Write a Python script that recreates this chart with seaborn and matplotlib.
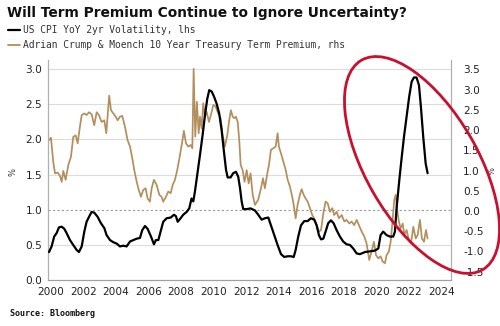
import matplotlib
matplotlib.use("Agg")
import matplotlib.pyplot as plt
import matplotlib.transforms as mtransforms
from matplotlib.patches import Ellipse
from matplotlib.lines import Line2D
import seaborn as sns
import pandas as pd

# ---------------- data ----------------
cpi_year = [1999.88, 2000.04, 2000.20, 2000.35, 2000.49, 2000.66, 2000.82, 2000.96, 2001.17, 2001.37,
            2001.58, 2001.72, 2001.89, 2002.05, 2002.19, 2002.34, 2002.50, 2002.66, 2002.87, 2003.07,
            2003.28, 2003.42, 2003.63, 2003.83, 2004.04, 2004.24, 2004.45, 2004.65, 2004.86, 2005.06,
            2005.27, 2005.47, 2005.61, 2005.78, 2005.94, 2006.15, 2006.33, 2006.45, 2006.60, 2006.74,
            2006.90, 2007.11, 2007.36, 2007.56, 2007.68, 2007.79, 2007.97, 2008.13, 2008.34, 2008.50,
            2008.64, 2008.75, 2008.85, 2008.99, 2009.16, 2009.32, 2009.47, 2009.61, 2009.73, 2009.88,
            2010.02, 2010.18, 2010.34, 2010.49, 2010.63, 2010.76, 2010.86, 2011.04, 2011.20, 2011.37,
            2011.51, 2011.62, 2011.72, 2011.82, 2012.03, 2012.27, 2012.54, 2012.74, 2012.95, 2013.15,
            2013.36, 2013.52, 2013.73, 2013.93, 2014.14, 2014.34, 2014.55, 2014.75, 2014.92, 2015.04,
            2015.20, 2015.37, 2015.57, 2015.78, 2015.98, 2016.18, 2016.33, 2016.47, 2016.60, 2016.74,
            2016.88, 2017.04, 2017.21, 2017.37, 2017.56, 2017.76, 2017.96, 2018.17, 2018.38, 2018.58,
            2018.79, 2018.99, 2019.30, 2019.60, 2019.91, 2020.12, 2020.26, 2020.42, 2020.63, 2020.84,
            2021.04, 2021.14, 2021.25, 2021.41, 2021.56, 2021.70, 2021.86, 2022.02, 2022.17, 2022.31,
            2022.47, 2022.62, 2022.74, 2022.88, 2023.03, 2023.15]
cpi_vol = [0.40, 0.48, 0.62, 0.67, 0.75, 0.76, 0.73, 0.67, 0.57, 0.50,
           0.43, 0.40, 0.48, 0.69, 0.83, 0.90, 0.97, 0.96, 0.90, 0.81,
           0.74, 0.64, 0.57, 0.54, 0.52, 0.48, 0.49, 0.48, 0.55, 0.57,
           0.59, 0.60, 0.71, 0.77, 0.73, 0.62, 0.51, 0.57, 0.57, 0.69,
           0.83, 0.88, 0.89, 0.93, 0.91, 0.83, 0.88, 0.93, 0.97, 1.02,
           1.16, 1.12, 1.26, 1.49, 1.78, 2.06, 2.35, 2.58, 2.70, 2.68,
           2.61, 2.51, 2.37, 2.13, 1.83, 1.57, 1.46, 1.46, 1.52, 1.54,
           1.47, 1.31, 1.12, 1.01, 1.01, 1.02, 0.99, 0.93, 0.86, 0.88,
           0.89, 0.78, 0.64, 0.50, 0.37, 0.33, 0.34, 0.34, 0.33, 0.43,
           0.62, 0.78, 0.84, 0.84, 0.88, 0.86, 0.78, 0.64, 0.58, 0.59,
           0.69, 0.81, 0.85, 0.81, 0.71, 0.62, 0.55, 0.51, 0.50, 0.45,
           0.38, 0.37, 0.40, 0.41, 0.42, 0.45, 0.64, 0.69, 0.64, 0.62,
           0.62, 0.69, 1.04, 1.42, 1.75, 2.04, 2.32, 2.61, 2.82, 2.88,
           2.88, 2.77, 2.46, 2.04, 1.66, 1.52]

tp_year = [1999.88, 2000.00, 2000.14, 2000.25, 2000.41, 2000.55, 2000.66, 2000.76, 2000.90, 2001.07,
           2001.23, 2001.37, 2001.52, 2001.64, 2001.78, 2001.89, 2002.05, 2002.19, 2002.34, 2002.50,
           2002.66, 2002.81, 2002.95, 2003.11, 2003.28, 2003.40, 2003.58, 2003.69, 2003.83, 2003.98,
           2004.10, 2004.24, 2004.38, 2004.55, 2004.71, 2004.86, 2005.00, 2005.12, 2005.27, 2005.37,
           2005.53, 2005.67, 2005.82, 2005.94, 2006.08, 2006.19, 2006.33, 2006.50, 2006.66, 2006.80,
           2006.90, 2007.07, 2007.21, 2007.36, 2007.48, 2007.62, 2007.76, 2007.93, 2008.07, 2008.17,
           2008.30, 2008.44, 2008.59, 2008.69, 2008.77, 2008.87, 2008.97, 2009.08, 2009.16, 2009.26,
           2009.36, 2009.47, 2009.57, 2009.71, 2009.83, 2009.98, 2010.12, 2010.28, 2010.43, 2010.55,
           2010.69, 2010.84, 2010.96, 2011.06, 2011.17, 2011.27, 2011.37, 2011.48, 2011.58, 2011.66,
           2011.78, 2011.90, 2012.03, 2012.15, 2012.27, 2012.40, 2012.54, 2012.74, 2012.91, 2013.03,
           2013.15, 2013.28, 2013.40, 2013.52, 2013.66, 2013.81, 2013.93, 2014.01, 2014.14, 2014.28,
           2014.43, 2014.55, 2014.69, 2014.83, 2014.95, 2015.04, 2015.16, 2015.30, 2015.41, 2015.53,
           2015.65, 2015.78, 2015.92, 2016.06, 2016.18, 2016.33, 2016.47, 2016.60, 2016.74, 2016.88,
           2017.01, 2017.15, 2017.29, 2017.41, 2017.56, 2017.70, 2017.87, 2018.03, 2018.17, 2018.34,
           2018.48, 2018.64, 2018.79, 2018.93, 2019.10, 2019.26, 2019.40, 2019.56, 2019.71, 2019.85,
           2019.98, 2020.12, 2020.26, 2020.39, 2020.53, 2020.63, 2020.77, 2020.88, 2021.00, 2021.10,
           2021.19, 2021.28, 2021.39, 2021.49, 2021.62, 2021.72, 2021.86, 2022.00, 2022.13, 2022.27,
           2022.42, 2022.54, 2022.68, 2022.80, 2022.93, 2023.05, 2023.15]
term_premium = [1.75, 1.81, 1.22, 0.93, 0.95, 0.87, 0.72, 0.99, 0.77, 1.14,
                1.34, 1.83, 1.87, 1.67, 2.08, 2.37, 2.41, 2.37, 2.44, 2.39,
                2.12, 2.44, 2.37, 2.20, 2.24, 1.92, 2.85, 2.49, 2.41, 2.33,
                2.24, 2.33, 2.35, 2.08, 1.75, 1.59, 1.30, 1.01, 0.72, 0.56,
                0.35, 0.52, 0.56, 0.31, 0.23, 0.56, 0.77, 0.64, 0.40, 0.35,
                0.23, 0.35, 0.48, 0.44, 0.64, 0.77, 1.01, 1.38, 1.71, 1.98,
                1.67, 1.59, 1.63, 1.55, 3.51, 1.84, 2.70, 1.92, 2.33, 2.04,
                2.66, 2.33, 2.45, 2.20, 2.37, 2.62, 2.58, 2.41, 2.29, 1.88,
                1.59, 1.88, 2.25, 2.49, 2.33, 2.29, 2.33, 2.20, 1.71, 1.14,
                1.01, 0.72, 1.01, 0.68, 0.93, 0.40, 0.15, 0.28, 0.56, 0.81,
                0.56, 0.89, 1.14, 1.51, 1.55, 1.59, 1.92, 1.59, 1.42, 1.22,
                1.01, 0.77, 0.60, 0.35, 0.07, -0.18, 0.15, 0.40, 0.54, 0.40,
                0.31, 0.23, 0.07, -0.10, -0.18, -0.35, -0.51, -0.47, -0.06, 0.23,
                0.19, -0.02, 0.07, -0.10, -0.02, -0.18, -0.10, -0.26, -0.22, -0.31,
                -0.26, -0.35, -0.22, -0.35, -0.51, -0.63, -0.80, -1.21, -1.00, -0.76,
                -1.09, -1.17, -1.12, -1.25, -1.29, -1.09, -1.00, -0.76, -0.22, 0.27,
                0.40, 0.02, -0.27, -0.43, -0.31, -0.59, -0.47, -0.72, -0.80, -0.39,
                -0.68, -0.59, -0.22, -0.68, -0.76, -0.47, -0.68]

x_ticks = list(range(2000, 2025, 2))
left_ticks = [0.0, 0.5, 1.0, 1.5, 2.0, 2.5, 3.0]
right_ticks = [-1.5, -1.0, -0.5, 0.0, 0.5, 1.0, 1.5, 2.0, 2.5, 3.0, 3.5]

title = "Will Term Premium Continue to Ignore Uncertainty?"
label_cpi = "US CPI YoY 2yr Volatility, lhs"
label_tp = "Adrian Crump & Moench 10 Year Treasury Term Premium, rhs"
source = "Source: Bloomberg"

GOLD = "#b28f5c"

# ---------------- figure ----------------
sns.set_style("white")
plt.rcParams["font.family"] = ["DejaVu Sans"]

W, H = 500, 326
fig = plt.figure(figsize=(W / 100, H / 100), dpi=100)
ax = fig.add_axes([47.7 / W, 1 - 280.2 / H, 403 / W, 220.2 / H])
ax2 = ax.twinx()

df_cpi = pd.DataFrame({"year": cpi_year, "val": cpi_vol})
df_tp = pd.DataFrame({"year": tp_year, "val": term_premium})

sns.lineplot(data=df_tp, x="year", y="val", ax=ax2, color=GOLD, lw=1.25, zorder=3)
sns.lineplot(data=df_cpi, x="year", y="val", ax=ax, color="black", lw=1.6, zorder=4)

ax.set_xlim(1999.8, 2024.57)
ax.set_ylim(0, 3.128)
ax2.set_ylim(-1.71, 3.73)

# put left axes (black line) above the gold line
ax.set_zorder(ax2.get_zorder() + 1)
ax.patch.set_visible(False)
ax2.patch.set_visible(True)
ax2.patch.set_facecolor("white")

# horizontal grid lines at left ticks (drawn beneath lines)
blend = mtransforms.blended_transform_factory(ax2.transAxes, ax.transData)
for t in left_ticks[1:]:
    if t == 1.0:
        ax2.plot([0, 1], [t, t], transform=blend, color="#9a9a9a", lw=0.8,
                 ls=(0, (2, 2)), zorder=1)
    else:
        ax2.plot([0, 1], [t, t], transform=blend, color="#dcdcdc", lw=0.8, zorder=1)

ax.set_xticks(x_ticks)
ax.set_xticklabels([str(x) for x in x_ticks])
ax.set_yticks(left_ticks)
ax.set_yticklabels([f"{v:.1f}" for v in left_ticks])
ax2.set_yticks(right_ticks)
ax2.set_yticklabels([f"{v:.1f}" for v in right_ticks])

for a in (ax, ax2):
    a.set_xlabel("")
    a.set_ylabel("")
    a.spines["top"].set_visible(False)
    a.spines["left"].set_color("#b0b0b0")
    a.spines["right"].set_color("#b0b0b0")
    a.spines["bottom"].set_color("#a0a0a0")
    a.spines["left"].set_linewidth(0.8)
    a.spines["right"].set_linewidth(0.8)
    a.spines["bottom"].set_linewidth(0.8)

ax.tick_params(axis="y", length=0, labelsize=7.6, labelcolor="#222222", pad=4)
ax2.tick_params(axis="y", length=0, labelsize=7.6, labelcolor="#222222", pad=9)
ax.tick_params(axis="x", length=3, width=0.8, color="#a0a0a0", direction="out",
               labelsize=7.6, labelcolor="#222222", pad=2)

# percent unit labels
fig.text(12.7 / W, 1 - 172 / H, "%", rotation=90, fontsize=6, color="#333333",
         ha="center", va="center")
fig.text(492 / W, 1 - 171 / H, "%", rotation=90, fontsize=6, color="#333333",
         ha="center", va="center")

# title, legend, source
fig.text(7 / W, 1 - 13 / H, title, fontsize=9.9, fontweight="bold", color="#111111",
         ha="left", va="center")
fig.add_artist(Line2D([8 / W, 20 / W], [1 - 30 / H, 1 - 30 / H], color="black", lw=1.6,
                      transform=fig.transFigure))
fig.add_artist(Line2D([8 / W, 20 / W], [1 - 45 / H, 1 - 45 / H], color=GOLD, lw=1.3,
                      transform=fig.transFigure))
fig.text(23 / W, 1 - 30 / H, label_cpi, fontsize=6.9, family="DejaVu Sans Mono",
         color="#333333", ha="left", va="center")
fig.text(23 / W, 1 - 45 / H, label_tp, fontsize=6.9, family="DejaVu Sans Mono",
         color="#333333", ha="left", va="center")
fig.text(10 / W, 1 - 314 / H, source, fontsize=6, family="DejaVu Sans Mono",
         fontweight="bold", color="#111111", ha="left", va="center")

# red ellipse annotation in pixel coordinates
ov = fig.add_axes([0, 0, 1, 1], zorder=10)
ov.set_xlim(0, W)
ov.set_ylim(H, 0)
ov.axis("off")
ov.patch.set_visible(False)
ov.add_patch(Ellipse((422, 165), width=242, height=112, angle=60, fill=False,
                     edgecolor="#c8102e", lw=2.0))

fig.savefig("out.png", dpi=100)
